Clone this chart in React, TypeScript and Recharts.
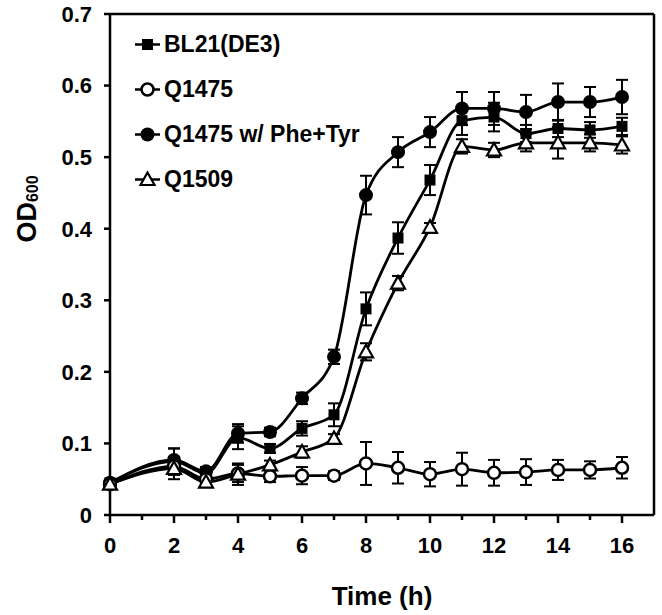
import React from "react";
import { LineChart, Line, XAxis, YAxis, ErrorBar } from "recharts";

// growth curves, OD600 vs time (h)
const hours = [0, 2, 3, 4, 5, 6, 7, 8, 9, 10, 11, 12, 13, 14, 15, 16];

const bl21 = [0.045, 0.075, 0.058, 0.108, 0.093, 0.121, 0.14, 0.288, 0.387, 0.468, 0.551, 0.556, 0.533, 0.54, 0.538, 0.543];
const bl21Err = [0.004, 0.018, 0.006, 0.016, 0.006, 0.01, 0.016, 0.023, 0.022, 0.021, 0.02, 0.02, 0.012, 0.012, 0.011, 0.012];

const q1475 = [0.043, 0.068, 0.05, 0.058, 0.054, 0.055, 0.055, 0.072, 0.066, 0.057, 0.064, 0.059, 0.06, 0.063, 0.063, 0.066];
const q1475Err = [0.004, 0.012, 0.005, 0.012, 0.008, 0.012, 0.006, 0.03, 0.022, 0.017, 0.023, 0.018, 0.018, 0.014, 0.012, 0.015];

const q1475Phe = [0.045, 0.077, 0.061, 0.114, 0.116, 0.163, 0.221, 0.447, 0.507, 0.535, 0.568, 0.568, 0.563, 0.577, 0.577, 0.584];
const q1475PheErr = [0.004, 0.016, 0.006, 0.013, 0.006, 0.008, 0.01, 0.027, 0.021, 0.021, 0.023, 0.023, 0.024, 0.026, 0.021, 0.024];

const q1509 = [0.043, 0.065, 0.046, 0.057, 0.07, 0.088, 0.107, 0.228, 0.324, 0.402, 0.515, 0.51, 0.52, 0.52, 0.52, 0.517];
const q1509Err = [0.004, 0.015, 0.005, 0.015, 0.006, 0.008, 0.006, 0.012, 0.01, 0.006, 0.01, 0.01, 0.012, 0.022, 0.012, 0.012];

const xTicks = [0, 1, 2, 3, 4, 5, 6, 7, 8, 9, 10, 11, 12, 13, 14, 15, 16];
const yTicks = [0, 0.1, 0.2, 0.3, 0.4, 0.5, 0.6, 0.7];

const legendItems = [
  { name: "BL21(DE3)", kind: "square" },
  { name: "Q1475", kind: "open" },
  { name: "Q1475 w/ Phe+Tyr", kind: "filled" },
  { name: "Q1509", kind: "triangle" },
];

const rows = hours.map((t, i) => ({
  t,
  bl21: bl21[i],
  bl21Err: bl21Err[i],
  q1475: q1475[i],
  q1475Err: q1475Err[i],
  q1475Phe: q1475Phe[i],
  q1475PheErr: q1475PheErr[i],
  q1509: q1509[i],
  q1509Err: q1509Err[i],
}));

const FONT = '"Liberation Sans", Arial, sans-serif';

function marker(kind: string, cx: number, cy: number, key?: any) {
  if (kind === "square")
    return <rect key={key} x={cx - 5.5} y={cy - 5.5} width={11} height={11} fill="#000" />;
  if (kind === "open")
    return <circle key={key} cx={cx} cy={cy} r={6} fill="#fff" stroke="#000" strokeWidth={2.5} />;
  if (kind === "filled")
    return <circle key={key} cx={cx} cy={cy} r={7} fill="#000" />;
  return (
    <polygon
      key={key}
      points={`${cx},${cy - 7} ${cx - 7},${cy + 5.5} ${cx + 7},${cy + 5.5}`}
      fill="#fff"
      stroke="#000"
      strokeWidth={2.2}
    />
  );
}

const dotFor = (kind: string) => (p: any) => marker(kind, p.cx, p.cy, `${kind}-${p.index}`);

function TimeTick(props: any) {
  const { x, y, payload } = props;
  const v = payload.value;
  const major = v % 2 === 0;
  return (
    <g>
      <line x1={x} x2={x} y1={y} y2={y + (major ? 8 : 5)} stroke="#000" strokeWidth={2.5} />
      {major && (
        <text x={x} y={y + 30} textAnchor="middle" dominantBaseline="central" fontFamily={FONT} fontWeight="bold" fontSize={22} fill="#000">
          {v}
        </text>
      )}
    </g>
  );
}

function LegendBox() {
  return (
    <div style={{ position: "absolute", left: 130, top: 22, fontFamily: FONT, fontWeight: "bold", fontSize: 23, color: "#000" }}>
      {legendItems.map((it) => (
        <div key={it.name} style={{ display: "flex", alignItems: "center", height: 45 }}>
          <svg width={32} height={45}>
            <line x1={5} x2={30} y1={22.5} y2={22.5} stroke="#000" strokeWidth={2.5} />
            {marker(it.kind, 17.5, 22.5)}
          </svg>
          <span style={{ marginLeft: 2, whiteSpace: "nowrap" }}>{it.name}</span>
        </div>
      ))}
    </div>
  );
}

export default function App() {
  const lineProps = {
    type: "monotone" as const,
    stroke: "#000",
    strokeWidth: 2.8,
    isAnimationActive: false,
    activeDot: false as const,
  };
  const errProps = { width: 6, strokeWidth: 2, stroke: "#000", direction: "y" as const };

  return (
    <div style={{ position: "absolute", left: 0, top: 0, width: 662, height: 615, background: "#fff" }}>
      <LineChart width={662} height={615} data={rows} margin={{ top: 13, right: 0, left: 0, bottom: 0 }}>
        <XAxis
          dataKey="t"
          type="number"
          domain={[0, 17]}
          ticks={xTicks}
          interval={0}
          height={100}
          tickSize={0}
          tickMargin={0}
          tickLine={false}
          tick={<TimeTick />}
          axisLine={{ stroke: "#000", strokeWidth: 2.5 }}
          label={(p: any) => {
            const vb = p.viewBox;
            return (
              <text x={vb.x + vb.width / 2} y={vb.y + 81} textAnchor="middle" dominantBaseline="central" fontFamily={FONT} fontWeight="bold" fontSize={26} fill="#000">
                Time (h)
              </text>
            );
          }}
        />
        <XAxis xAxisId="top" orientation="top" type="number" dataKey="t" domain={[0, 17]} height={1} tick={false} tickLine={false} axisLine={{ stroke: "#000", strokeWidth: 2.5 }} />
        <YAxis
          type="number"
          domain={[0, 0.7]}
          ticks={yTicks}
          interval={0}
          width={110}
          tickSize={6}
          tickMargin={12}
          tickLine={{ stroke: "#000", strokeWidth: 2.5 }}
          axisLine={{ stroke: "#000", strokeWidth: 2.5 }}
          tick={{ fontFamily: FONT, fontWeight: "bold", fontSize: 22, fill: "#000" }}
          tickFormatter={(v: number) => (v === 0 ? "0" : v.toFixed(1))}
          label={(p: any) => {
            const vb = p.viewBox;
            const cx = vb.x + 27;
            const cy = vb.y + 195;
            return (
              <text x={cx} y={cy} transform={`rotate(-90, ${cx}, ${cy})`} textAnchor="middle" dominantBaseline="central" fontFamily={FONT} fontWeight="bold" fontSize={27} fill="#000">
                OD
                <tspan fontSize={16} dy={5}>600</tspan>
              </text>
            );
          }}
        />
        <YAxis yAxisId="right" orientation="right" type="number" domain={[0, 0.7]} width={8} tick={false} tickLine={false} axisLine={{ stroke: "#000", strokeWidth: 2.5 }} />

        <Line dataKey="q1475Phe" name="Q1475 w/ Phe+Tyr" {...lineProps} dot={dotFor("filled")}>
          <ErrorBar dataKey="q1475PheErr" {...errProps} />
        </Line>
        <Line dataKey="bl21" name="BL21(DE3)" {...lineProps} dot={dotFor("square")}>
          <ErrorBar dataKey="bl21Err" {...errProps} />
        </Line>
        <Line dataKey="q1475" name="Q1475" {...lineProps} dot={dotFor("open")}>
          <ErrorBar dataKey="q1475Err" {...errProps} />
        </Line>
        <Line dataKey="q1509" name="Q1509" {...lineProps} dot={dotFor("triangle")}>
          <ErrorBar dataKey="q1509Err" {...errProps} />
        </Line>
      </LineChart>
      <LegendBox />
    </div>
  );
}
